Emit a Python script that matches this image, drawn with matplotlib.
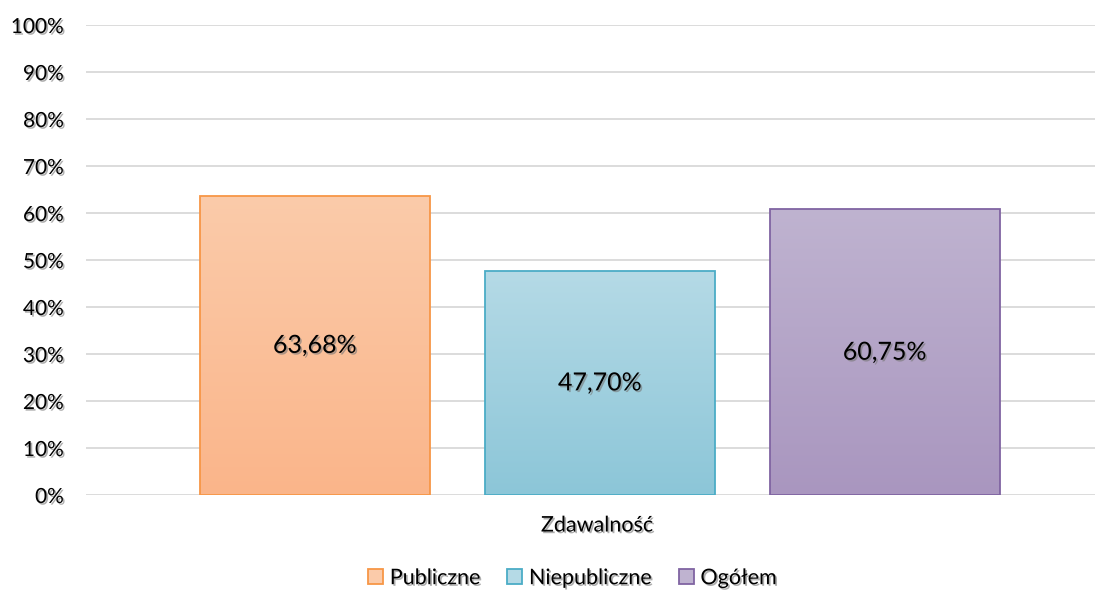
import numpy as np
import matplotlib
matplotlib.use("Agg")
import matplotlib.pyplot as plt
import matplotlib.patheffects as pe
from matplotlib.patches import Patch
from matplotlib.colors import LinearSegmentedColormap

plt.rcParams['font.family'] = ['Lato', 'DejaVu Sans']

# data
series = ["Publiczne", "Niepubliczne", "Ogółem"]
values = [63.68, 47.70, 60.75]
category = "Zdawalność"
labels = ["63,68%", "47,70%", "60,75%"]

edge_colors = ["#F79646", "#4BACC6", "#8064A2"]
top_colors = ["#FBCBAA", "#B5DAE6", "#BFB3D0"]
bottom_colors = ["#FAB58A", "#8CC6D8", "#A996BF"]

fig = plt.figure(figsize=(11.07, 5.93), dpi=100)
ax = fig.add_axes([0.0777, 0.1653, 0.9113, 0.7925])

x = np.arange(len(series))
width = 0.807
bars = ax.bar(x, values, width=width, color="none", edgecolor=edge_colors,
              linewidth=1.3, zorder=3)

# gradient fill inside each bar
grad = np.linspace(0, 1, 256).reshape(-1, 1)
for b, top, bot in zip(bars, top_colors, bottom_colors):
    cmap = LinearSegmentedColormap.from_list("g", [bot, top])
    x0, y0 = b.get_x(), b.get_y()
    im = ax.imshow(grad, cmap=cmap, origin="lower", aspect="auto",
                   extent=[x0, x0 + b.get_width(), y0, y0 + b.get_height()],
                   zorder=2)
    im.set_clip_path(b)

shadow = [pe.SimplePatchShadow(offset=(1.2, -1.2), shadow_rgbFace="#777777", alpha=0.6), pe.Normal()]

for xi, v, lab in zip(x, values, labels):
    ax.text(xi, v / 2, lab, ha="center", va="center", fontsize=18,
            color="black", zorder=4, path_effects=shadow)

ax.set_xlim(-0.8035, 2.737)
ax.set_ylim(0, 100)
ax.set_yticks(np.arange(0, 101, 10))
ax.set_yticklabels([f"{t}%" for t in range(0, 101, 10)])
ax.set_xticks([])
ax.yaxis.grid(True, color="#D9D9D9", linewidth=1.3, zorder=0)
ax.set_axisbelow(True)
for s in ax.spines.values():
    s.set_visible(False)
ax.tick_params(axis="y", length=0, pad=16, labelsize=15)
for t in ax.get_yticklabels():
    t.set_path_effects(shadow)

ax.text(0.99, -6.5, category, ha="center", va="center", fontsize=15.5,
        path_effects=shadow)

handles = [Patch(facecolor=t, edgecolor=e, linewidth=1.3) for t, e in zip(top_colors, edge_colors)]
leg = fig.legend(handles, series, loc="center", bbox_to_anchor=(0.517, 0.025),
                 ncol=3, frameon=False, fontsize=15.5, handlelength=0.7,
                 handleheight=0.7, handletextpad=0.3, columnspacing=1.25)
for t in leg.get_texts():
    t.set_path_effects(shadow)

fig.savefig("out.png", dpi=100)
